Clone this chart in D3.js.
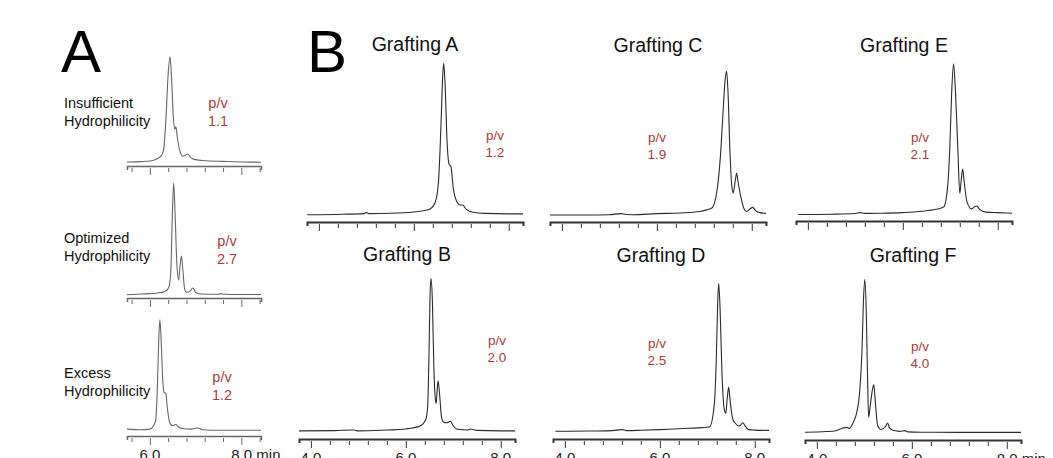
<!DOCTYPE html>
<html>
<head>
<meta charset="utf-8">
<script src="https://cdn.jsdelivr.net/npm/d3@7"></script>
<style>
  body { margin: 0; background: #fff; }
  text { font-family: "Liberation Sans", Arial, sans-serif; }
</style>
</head>
<body>
<div id="chart"></div>
<script>
// ---- data: [time (min), signal] ----
const insufficient = [[5.5,3.5],[5.8,3.8],[6.0,4.3],[6.15,6],[6.25,9],[6.3,14],[6.35,40],[6.4,80],[6.44,95],[6.47,80],[6.51,45],[6.54,32],[6.57,34],[6.6,25],[6.65,14],[6.72,8.5],[6.78,9.5],[6.83,10.4],[6.88,8],[6.95,6],[7.2,4.5],[7.6,4],[8.0,3.5],[8.43,3.3]];
const optimized = [[5.5,2.8],[5.8,3.5],[6.0,3.8],[6.2,4.5],[6.35,6],[6.42,10],[6.46,25],[6.49,70],[6.52,100],[6.55,75],[6.59,30],[6.63,15.6],[6.66,28],[6.69,36.5],[6.72,25],[6.76,8],[6.8,5],[6.88,6],[6.94,8.7],[7.0,5],[7.1,3.5],[7.5,3.2],[7.55,3.8],[7.6,3.2],[8.0,3],[8.43,3]];
const excess = [[5.5,6],[5.8,5.5],[6.0,6],[6.08,9],[6.13,14],[6.17,50],[6.2,90],[6.22,101],[6.25,80],[6.28,50],[6.31,38],[6.35,37],[6.38,25],[6.44,11],[6.5,9],[6.57,10],[6.62,8],[6.7,6.5],[6.9,6],[7.05,7],[7.15,5.5],[7.5,5],[8.0,5],[8.43,5]];

const graftA = [[3.75,4.5],[4.5,4.8],[4.95,5.2],[5.0,5.8],[5.05,5.2],[5.5,5.4],[6.0,6.2],[6.2,6.9],[6.35,8.2],[6.45,12],[6.52,25],[6.57,58],[6.61,91],[6.63,98],[6.66,84],[6.70,50],[6.74,36],[6.76,35],[6.78,34.5],[6.83,21],[6.9,13],[6.98,10.5],[7.03,10.5],[7.1,8],[7.25,6],[7.5,5.3],[8.0,5],[8.3,5]];
const graftB = [[3.75,5],[4.5,5.2],[4.9,5.6],[5.0,5],[5.5,5.4],[6.0,6.2],[6.3,8],[6.42,12],[6.46,20],[6.49,55],[6.51,88],[6.53,99],[6.56,85],[6.59,45],[6.62,25],[6.64,22],[6.66,30],[6.68,36],[6.71,28],[6.75,14],[6.79,10.5],[6.86,10],[6.94,11],[7.0,8],[7.09,6],[7.3,5.6],[7.36,6.2],[7.5,5.3],[8.0,5],[8.3,5]];
const graftC = [[3.75,4.3],[4.5,4.3],[5.0,4.5],[5.25,5.2],[5.35,4.6],[5.5,4.5],[6.0,5.2],[6.5,5.6],[6.9,6.5],[7.05,7.5],[7.16,8.6],[7.28,22],[7.35,45],[7.39,65],[7.44,88],[7.47,93],[7.50,80],[7.54,44],[7.58,22],[7.61,18],[7.65,25],[7.68,30],[7.71,25],[7.77,15.5],[7.84,8],[7.89,6.5],[7.96,8],[8.02,9],[8.08,7],[8.17,5.8],[8.3,5.3]];
const graftD = [[3.8,4.8],[4.5,4.9],[5.0,5.2],[5.2,5.8],[5.3,5.2],[5.6,5.4],[6.0,5.8],[6.3,6.2],[6.6,6.6],[6.9,7.0],[7.05,7.6],[7.15,22],[7.19,50],[7.22,85],[7.24,96],[7.27,80],[7.31,40],[7.36,18],[7.39,16],[7.42,25],[7.45,32],[7.48,24],[7.53,13],[7.58,10],[7.68,8],[7.75,10],[7.8,8],[7.87,5.8],[8.0,5.5],[8.3,5.3]];
const graftE = [[3.8,4.0],[4.5,4.2],[5.0,4.6],[5.1,5.2],[5.2,4.7],[5.5,4.8],[6.0,5.2],[6.4,6],[6.7,7.2],[6.86,8.6],[6.94,20],[6.99,45],[7.03,80],[7.07,97],[7.10,85],[7.16,44],[7.20,17],[7.23,25],[7.26,32],[7.29,25],[7.35,12],[7.45,7.5],[7.52,9],[7.56,9.3],[7.62,7],[7.75,5.5],[8.0,5.2],[8.3,4.8]];
const graftF = [[3.75,4.8],[4.2,5.2],[4.4,5.7],[4.55,7.4],[4.62,7.8],[4.68,7.2],[4.76,10.5],[4.84,17],[4.9,29],[4.95,55],[4.98,85],[5.01,99],[5.04,80],[5.07,35],[5.09,14],[5.12,20],[5.17,31],[5.2,34],[5.23,24],[5.28,9],[5.35,6.5],[5.45,8.5],[5.49,10.5],[5.53,7.5],[5.6,6],[5.75,5.3],[5.85,5.8],[5.92,5],[6.2,4.8],[7,4.7],[8.3,4.7]];

const hydroLabels = [["Insufficient", "Hydrophilicity"], ["Optimized", "Hydrophilicity"], ["Excess", "Hydrophilicity"]];
const graftTitles = ["Grafting A", "Grafting B", "Grafting C", "Grafting D", "Grafting E", "Grafting F"];
const pvA = ["1.1", "2.7", "1.2"];
const pvB = ["1.2", "2.0", "1.9", "2.5", "2.1", "4.0"];
const ticksA = [5.6, 6.0, 6.4, 6.8, 7.2, 7.6, 8.0, 8.4];
const ticksB = [4.0, 4.4, 4.8, 5.2, 5.6, 6.0, 6.4, 6.8, 7.2, 7.6, 8.0];
const labelTicksA = [6.0, 8.0];
const labelTicksB = [4.0, 6.0, 8.0];

const svgWidth = 1053, svgHeight = 458;
const red = "#a83c3c";

const svg = d3.select("#chart").append("svg")
  .attr("width", svgWidth)
  .attr("height", svgHeight)
  .style("display", "block");

svg.append("rect").attr("width", svgWidth).attr("height", svgHeight).attr("fill", "#fff");

// panel letters
svg.append("text").attr("x", 61).attr("y", 72).attr("font-size", 60).text("A");
svg.append("text").attr("x", 307).attr("y", 72).attr("font-size", 60).text("B");

const line = (x, y) => d3.line().x(d => x(d[0])).y(d => y(d[1])).curve(d3.curveMonotoneX);

function drawAxis(g, x, ticks, axisY, color, width, labels, lastSuffix) {
  const axis = d3.axisBottom(x).tickValues(ticks).tickFormat("").tickSizeOuter(0).tickSize(4);
  const ag = g.append("g").attr("transform", `translate(0, ${axisY})`).call(axis);
  ag.select(".domain").attr("stroke", color).attr("stroke-width", width);
  ag.selectAll(".tick line")
    .attr("stroke", color)
    .attr("y1", 2)
    .attr("y2", d => (Math.abs(d % 2) < 1e-6 ? 9 : 6));
  if (labels) {
    labels.forEach((v, i) => {
      const last = i === labels.length - 1 && lastSuffix;
      g.append("text")
        .attr("x", x(v) + (last ? -10 : 0))
        .attr("y", axisY + 24)
        .attr("text-anchor", last ? "start" : "middle")
        .attr("font-size", 15)
        .attr("fill", "#222")
        .text(v.toFixed(1) + (last ? " min" : ""));
    });
  }
}

// ---- column A ----
const aPanels = [
  { data: insufficient, axisY: 166, labY: 108, pvX: 218, pvY: 108 },
  { data: optimized, axisY: 298, labY: 243, pvX: 227, pvY: 246 },
  { data: excess, axisY: 436, labY: 378, pvX: 222, pvY: 382 }
];
const xA = d3.scaleLinear().domain([5.5, 8.43]).range([127, 261]);

aPanels.forEach((p, i) => {
  const y = d3.scaleLinear().domain([0, 100]).range([p.axisY, p.axisY - 115]);
  const g = svg.append("g");
  g.append("path").datum(p.data)
    .attr("d", line(xA, y))
    .attr("fill", "none").attr("stroke", "#666").attr("stroke-width", 1.1);
  drawAxis(g, xA, ticksA, p.axisY, "#666", 1.5, i === 2 ? labelTicksA : null, true);
  hydroLabels[i].forEach((t, k) => {
    g.append("text").attr("x", 64).attr("y", p.labY + k * 17.5)
      .attr("font-size", 14.5).attr("fill", "#111").text(t);
  });
  ["p/v", pvA[i]].forEach((t, k) => {
    g.append("text").attr("x", p.pvX).attr("y", p.pvY + k * 17.5)
      .attr("text-anchor", "middle").attr("font-size", 14.5).attr("fill", red).text(t);
  });
});

// ---- column B (grafting) ----
const bPanels = [
  { data: graftA, x0: 307, axisY: 222, titleY: 51, pvX: 495, pvY: 140 },
  { data: graftB, x0: 299, axisY: 439, titleY: 261, pvX: 497, pvY: 345 },
  { data: graftC, x0: 550, axisY: 222, titleY: 52, pvX: 657, pvY: 142 },
  { data: graftD, x0: 553, axisY: 439, titleY: 262, pvX: 657, pvY: 348 },
  { data: graftE, x0: 796, axisY: 221, titleY: 52, pvX: 920, pvY: 142 },
  { data: graftF, x0: 805, axisY: 440, titleY: 262, pvX: 920, pvY: 351 }
];

bPanels.forEach((p, i) => {
  const x = d3.scaleLinear().domain([3.75, 8.3]).range([p.x0, p.x0 + 216]);
  const y = d3.scaleLinear().domain([0, 100]).range([p.axisY, p.axisY - 162]);
  const g = svg.append("g");
  g.append("path").datum(p.data)
    .attr("d", line(x, y))
    .attr("fill", "none").attr("stroke", "#2a2a2a").attr("stroke-width", 1.1);
  const bottomRow = i % 2 === 1;
  drawAxis(g, x, ticksB, p.axisY, "#333", 2, bottomRow ? labelTicksB : null, i === 5);
  g.append("text").attr("x", p.x0 + 108).attr("y", p.titleY)
    .attr("text-anchor", "middle").attr("font-size", 19.5).attr("fill", "#111")
    .text(graftTitles[i]);
  ["p/v", pvB[i]].forEach((t, k) => {
    g.append("text").attr("x", p.pvX).attr("y", p.pvY + k * 17)
      .attr("text-anchor", "middle").attr("font-size", 13.5).attr("fill", red).text(t);
  });
});
</script>
</body>
</html>
